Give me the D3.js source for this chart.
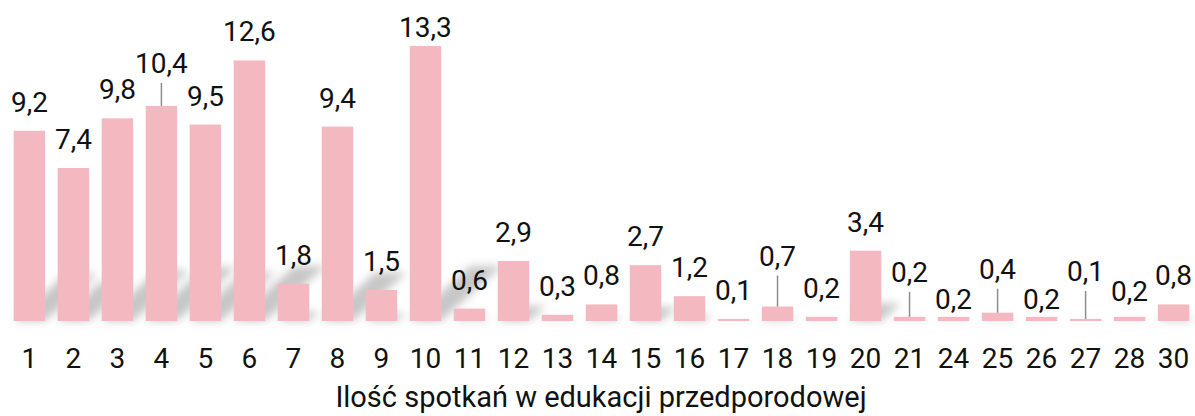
<!DOCTYPE html>
<html>
<head>
<meta charset="utf-8">
<script src="https://cdn.jsdelivr.net/npm/d3@7"></script>
<style>
  body { margin: 0; background: #fff; }
  svg { display: block; font-family: Roboto, "Noto Sans", sans-serif; }
</style>
</head>
<body>
<svg id="chart"></svg>
<script>
// Ilość spotkań w edukacji przedporodowej - bar chart with data labels

const categories = ["1", "2", "3", "4", "5", "6", "7", "8", "9", "10", "11", "12", "13", "14",
  "15", "16", "17", "18", "19", "20", "21", "24", "25", "26", "27", "28", "30"];
const values = [9.2, 7.4, 9.8, 10.4, 9.5, 12.6, 1.8, 9.4, 1.5, 13.3, 0.6, 2.9, 0.3, 0.8,
  2.7, 1.2, 0.1, 0.7, 0.2, 3.4, 0.2, 0.2, 0.4, 0.2, 0.1, 0.2, 0.8];
const axisTitle = "Ilość spotkań w edukacji przedporodowej";

// labels pushed up (px) with a leader line, or nudged
const labelLift = { "4": 14, "18": 22, "21": 16, "25": 15, "27": 19 };
const labelNudge = { "10": -10, "24": -11, "26": -11, "28": -3 };

const width = 1195;
const height = 416;
const barColor = "#f3b8c0";

const data = categories.map((c, i) => ({ cat: c, value: values[i] }));

const svg = d3.select("#chart")
  .attr("width", width)
  .attr("height", height);

const x = d3.scaleBand()
  .domain(categories)
  .range([7.5, 1195.5])
  .paddingInner(0.285)
  .paddingOuter(0.14);

const y = d3.scaleLinear()
  .domain([0, 14])
  .range([321, 321 - 14 * 20.68]);

// soft perspective shadow behind the bars
const defs = svg.append("defs");
defs.append("filter")
  .attr("id", "blur")
  .attr("x", "-50%").attr("y", "-50%")
  .attr("width", "200%").attr("height", "200%")
  .append("feGaussianBlur")
  .attr("stdDeviation", 4);

svg.append("g")
  .attr("filter", "url(#blur)")
  .selectAll("path")
  .data(data)
  .join("path")
  .attr("fill", "#000")
  .attr("opacity", 0.22)
  .attr("d", (d) => {
    const x0 = x(d.cat);
    const x1 = x0 + x.bandwidth();
    const h = y(0) - y(d.value);
    const sh = Math.min(h * 0.25, 55);
    const dx = sh * 1.1;
    return `M${x0},${y(0)} L${x1},${y(0)} L${x1 + dx},${y(0) - sh} L${x0 + dx},${y(0) - sh} Z`;
  });

svg.append("g")
  .selectAll("rect")
  .data(data)
  .join("rect")
  .attr("x", (d) => x(d.cat))
  .attr("y", (d) => y(d.value))
  .attr("width", x.bandwidth())
  .attr("height", (d) => y(0) - y(d.value))
  .attr("fill", barColor);

// leader lines
svg.append("g")
  .selectAll("line")
  .data(data.filter((d) => labelLift[d.cat]))
  .join("line")
  .attr("x1", (d) => x(d.cat) + x.bandwidth() / 2)
  .attr("x2", (d) => x(d.cat) + x.bandwidth() / 2)
  .attr("y1", (d) => y(d.value) - 19 - labelLift[d.cat] + 10)
  .attr("y2", (d) => y(d.value))
  .attr("stroke", "#8c8c8c")
  .attr("stroke-width", 1.5);

svg.append("g")
  .selectAll("text")
  .data(data)
  .join("text")
  .attr("x", (d) => x(d.cat) + x.bandwidth() / 2)
  .attr("y", (d) => y(d.value) - 19 - (labelLift[d.cat] || 0) - (labelNudge[d.cat] || 0))
  .attr("text-anchor", "middle")
  .attr("font-size", 28)
  .attr("fill", "#111")
  .text((d) => String(d.value).replace(".", ","));

// category axis
const xAxis = svg.append("g")
  .attr("transform", "translate(0,368)")
  .call(d3.axisBottom(x).tickSize(0).tickPadding(0));
xAxis.select(".domain").remove();
xAxis.selectAll("text")
  .attr("font-size", 28)
  .attr("font-family", "Roboto")
  .attr("fill", "#111")
  .attr("y", 0)
  .attr("dy", 0);

svg.append("text")
  .attr("x", 601)
  .attr("y", 407)
  .attr("text-anchor", "middle")
  .attr("font-size", 29)
  .attr("fill", "#111")
  .text(axisTitle);
</script>
</body>
</html>
